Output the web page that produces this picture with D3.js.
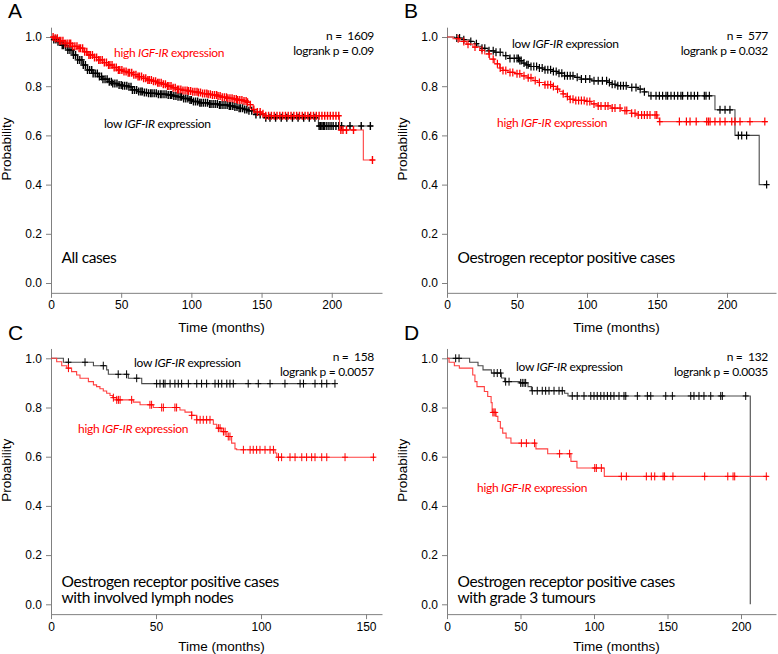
<!DOCTYPE html>
<html lang="en">
<head>
<meta charset="UTF-8">
<title>IGF-IR expression and survival</title>
<script src="https://d3js.org/d3.v7.min.js"></script>
<style>
  body { margin: 0; background: #fff; }
  svg text { font-family: "Liberation Sans", Arial, sans-serif; }
  .note { font-family: Lato, "Open Sans", sans-serif; font-size: 12px; letter-spacing: -0.3px; }
  .cap { font-family: Lato, "Open Sans", sans-serif; font-size: 15.5px; letter-spacing: -0.4px; }
</style>
</head>
<body>
<svg id="chart" width="778" height="654"></svg>
<script>
// step points are [months, survival probability after the step]
// panel A - all cases
const aHigh = [[2,0.995],[6,0.985],[10,0.974],[15,0.962],[19,0.954],[23,0.94],[26,0.927],[30,0.917],[34,0.907],[37,0.896],[41,0.886],[44,0.876],[48,0.866],[51,0.86],[55,0.855],[58,0.847],[62,0.839],[66,0.832],[69,0.825],[73,0.82],[76,0.814],[80,0.808],[83,0.801],[87,0.794],[90,0.787],[94,0.783],[98,0.78],[101,0.777],[105,0.774],[108,0.77],[112,0.767],[115,0.764],[119,0.76],[122,0.755],[126,0.751],[130,0.748],[133,0.744],[137,0.74],[140,0.735],[142,0.725],[144,0.705],[147,0.695],[150,0.688],[153,0.68],[205.5,0.622],[222.5,0.5]];
const aHighEnd = 229.6;
const aHighCens = [1.5,3,4.5,6,7,8.5,10,11.5,13,14,15.5,17,18.5,20,21,22.5,24,25.5,27,28,29.5,31,32.5,34,35,36.5,38,39.5,41,42,43.5,45,46.5,48,49,50.5,52,53.5,55,56,57.5,59,60.5,62,63,64.5,66,67.5,69,70,71.5,73,74.5,76,77,78.5,80,81.5,83,84,85.5,87,88.5,90,91,92.5,94,95.5,97,98,99.5,101,102.5,104,105,106.5,108,109.5,111,112,113.5,115,116.5,118,119,120.5,122,123.5,125,126,127.5,129,130.5,132,133,134.5,136,137.5,139,140,142,144.5,147,149,151,153,155,157,159,161,163,165,167,169,171,173,175,177,179,181,183,185,187,189,191,193,195,197,199,201,203,205,206.5,208,210.5,215.5,229];
const aLow = [[2,0.99],[5,0.981],[8,0.966],[12,0.947],[16,0.927],[19,0.907],[23,0.886],[26,0.866],[30,0.852],[34,0.839],[37,0.828],[41,0.818],[44,0.811],[48,0.805],[51,0.802],[55,0.798],[58,0.785],[62,0.778],[66,0.774],[69,0.771],[76,0.767],[83,0.764],[87,0.76],[90,0.757],[94,0.75],[98,0.744],[101,0.738],[105,0.733],[112,0.728],[119,0.724],[126,0.72],[130,0.715],[133,0.71],[137,0.705],[140,0.7],[145,0.685],[152,0.672],[190.5,0.638]];
const aLowEnd = 229.7;
const aLowCens = [2,3.5,5,6.5,8,9,10.5,12,13.5,15,16,17.5,19,20.5,22,23,24.5,26,27.5,29,30,31.5,33,34.5,36,37,38.5,40,41.5,43,44,45.5,47,48.5,50,51,52.5,54,55.5,57,58,59.5,61,62.5,64,65,66.5,68,69.5,71,72,73.5,75,76.5,78,79,80.5,82,83.5,85,86,87.5,89,90.5,92,93,94.5,96,97.5,99,100,101.5,103,104.5,106,107,108.5,110,111.5,113,114,115.5,117,118.5,120,121,122.5,124,125.5,127,128,129.5,131,132.5,134,135,136.5,138,139.5,141,143,146,149,153,156,160,164,168,172,176,180,184,188,191,192,193,194,195,196.5,198,199.5,201,203,205,207,213,221,227.5];

// panel B - oestrogen receptor positive
const bLow = [[5.5,0.996],[11.4,0.989],[16.2,0.982],[19.7,0.973],[22.1,0.962],[24.5,0.954],[29.3,0.944],[34,0.938],[40,0.924],[44.7,0.913],[51.8,0.904],[54.2,0.894],[56.6,0.887],[59,0.88],[64.9,0.874],[69.7,0.867],[75.6,0.86],[79.2,0.853],[83.9,0.842],[91.1,0.836],[95.8,0.829],[103,0.822],[114.9,0.815],[117.2,0.808],[122,0.802],[129.1,0.795],[136.3,0.788],[141,0.777],[144,0.761],[191.4,0.704],[205.7,0.6],[223,0.4]];
const bLowEnd = 228.3;
const bLowCens = [7,9,12,17,21,25,27,30,33,35,38,42,45,48,50,51,52,53,55,57,58,60,62,64,66,68,70,72,74,76,78,80,82,84,86,88,90,93,96,99,102,105,108,111,114,116,118,120,122,124,126,128,132,135,138,141,145.7,149.3,151.7,154,156.4,157.6,160,162.4,164.8,167.1,168.3,171.9,174.3,176.7,179,183.8,185,187.4,195,198.6,202.1,208.1,210.5,214,228.3];
const bHigh = [[4.3,0.993],[9,0.982],[13.8,0.971],[18.5,0.959],[23.3,0.946],[26.9,0.931],[30.4,0.91],[34,0.891],[37.6,0.874],[40,0.864],[43.5,0.856],[48.3,0.851],[53,0.842],[57.8,0.834],[61.4,0.823],[64.9,0.815],[69.7,0.806],[75.6,0.799],[78,0.788],[80.4,0.779],[82.8,0.769],[85.1,0.758],[87.5,0.747],[91.1,0.742],[98.2,0.738],[103,0.728],[107.7,0.72],[117.2,0.711],[124.4,0.701],[131.5,0.69],[135.1,0.683],[150.5,0.67],[151.7,0.656]];
const bHighEnd = 229;
const bHighCens = [8,12,15,20,25,30,33,36,38,40,42,45,47,50,52,55,58,60,63,66,70,72,74,76,79,83,86,88,90,92,94,96,98,100,102,105,108,110,113,115,118,120,123.6,127.1,128.4,131.9,134.3,136.6,139,141,143,145,148.6,149.8,152,166,171,173.6,178,185.5,186.7,187.9,191.4,195,198.6,203.4,205.7,209.3,216.4,227];

// panel C - ER positive, involved lymph nodes
const cLow = [[5.9,0.984],[20.2,0.97],[26.5,0.953],[27.3,0.935],[36.8,0.919],[43.2,0.897]];
const cLowEnd = 135.2;
const cLowCens = [8.3,16.2,24.9,32,36,40.8,50.3,51.9,53.5,54.3,56.7,59,60.6,62.2,65.4,69.4,71.7,74.1,78.1,79.7,81.3,83.7,85.2,86.8,93.9,98.7,104.3,111.4,118.6,120.2,125.7,128.9,131.3,135.2];
const cHigh = [[2.7,0.986],[5.1,0.97],[7.5,0.96],[9.8,0.946],[12.2,0.932],[13.8,0.919],[17.8,0.905],[20.2,0.892],[21.7,0.885],[23.3,0.876],[24.9,0.867],[26.5,0.858],[28.1,0.849],[29.4,0.84],[31.3,0.831],[39.2,0.822],[42.4,0.811],[48.7,0.8],[61.4,0.79],[63.8,0.781],[67,0.768],[69.4,0.75],[77.3,0.732],[78.9,0.716],[81.3,0.702],[83.7,0.682],[86,0.655],[87.6,0.632],[88.4,0.628],[106.7,0.615],[107.5,0.598]];
const cHighEnd = 154.3;
const cHighCens = [8.3,29.7,31.3,32.1,32.9,38.4,47.1,47.9,52.7,53.5,59,59.8,67,69.4,71,72.5,74.1,75.7,79.7,80.5,82.1,82.9,84.4,85.2,91.6,94.8,96.3,97.9,99.5,101.9,104.3,105.9,108.3,109.8,113.8,116.2,119.4,121.7,124.1,125.7,128.9,131.3,140,153.5];

// panel D - ER positive, grade 3 tumours
const dLow = [[15.4,0.984],[21.1,0.97],[24.5,0.953],[30.2,0.94],[37,0.92],[39.2,0.905],[49.4,0.9],[55.1,0.885],[57.4,0.868],[80,0.858],[82.3,0.847],[206.3,0]];
const dLowEnd = 206.3;
const dLowCens = [5.9,8.2,32,34.2,36.5,39.9,42.2,50.1,51.2,52.4,53.5,58,61.4,64.8,67.1,69.4,72.8,76.2,78.4,85.2,88.6,93.2,97.8,100,102.2,104.6,106.8,109.1,111.4,113.6,117,120.4,121.6,129.5,136.3,138.6,148.8,153.3,165.8,168,171.4,174.8,179.4,186.2,187.3,203.2];
const dHigh = [[1.4,0.984],[5,0.97],[8.4,0.96],[17.5,0.932],[19,0.905],[20.4,0.885],[25.4,0.865],[27.7,0.845],[30,0.82],[30.7,0.78],[33.4,0.764],[34.6,0.743],[36.3,0.716],[37.9,0.696],[40.2,0.676],[43.5,0.655],[60.5,0.632],[68.5,0.612],[84.3,0.581],[88.4,0.554],[107,0.52]];
const dHighEnd = 218.6;
const dHighCens = [31.2,32,32.8,50.6,54,59.6,76.6,83.4,100.5,101.6,105,118.6,122,135.6,139,141.3,147,148,153.7,175.3,191,194.6,195.7,217.2];

const yTicks = [0, 0.2, 0.4, 0.6, 0.8, 1.0];
const nCases = ["1609", "577", "158", "132"];
const pValues = ["0.09", "0.032", "0.0057", "0.0035"];
const captions = [["All cases"], ["Oestrogen receptor positive cases"],
  ["Oestrogen receptor positive cases", "with involved lymph nodes"],
  ["Oestrogen receptor positive cases", "with grade 3 tumours"]];

const panels = [
  {letter:"A", left:51, right:382, base:283, tmax:235.8, xticks:[0,50,100,150,200],
   low:aLow, lowEnd:aLowEnd, lowCens:aLowCens, high:aHigh, highEnd:aHighEnd, highCens:aHighCens,
   lowLab:[104,128], highLab:[114,57], mark:1.4},
  {letter:"B", left:447, right:776, base:283, tmax:235, xticks:[0,50,100,150,200],
   low:bLow, lowEnd:bLowEnd, lowCens:bLowCens, high:bHigh, highEnd:bHighEnd, highCens:bHighCens,
   lowLab:[512,47.5], highLab:[497,126.5], mark:1.2},
  {letter:"C", left:51, right:382, base:604.3, tmax:157.6, xticks:[0,50,100,150],
   low:cLow, lowEnd:cLowEnd, lowCens:cLowCens, high:cHigh, highEnd:cHighEnd, highCens:cHighCens,
   lowLab:[134,367], highLab:[78,433], mark:1},
  {letter:"D", left:447, right:776, base:604.3, tmax:223.8, xticks:[0,50,100,150,200],
   low:dLow, lowEnd:dLowEnd, lowCens:dLowCens, high:dHigh, highEnd:dHighEnd, highCens:dHighCens,
   lowLab:[516,370.5], highLab:[477,491.5], mark:1}
];

const svg = d3.select("#chart");
svg.append("rect").attr("width", 778).attr("height", 654).attr("fill", "#fff");

function valueAt(steps, t) {
  var v = 1;
  steps.forEach(function(s) { if (s[0] <= t) v = s[1]; });
  return v;
}

panels.forEach(function(p, i) {
  var x = d3.scaleLinear().domain([0, p.tmax]).range([p.left, p.right]);
  var y = d3.scaleLinear().domain([-0.04, 1.04]).range([p.base + 246 * 0.04, p.base - 246 * 1.04]);
  var g = svg.append("g");
  var top = p.base - 246;

  // axes
  var ya = g.append("g")
    .attr("transform", "translate(" + p.left + ",0)")
    .call(d3.axisLeft(y).tickValues(yTicks).tickFormat(d3.format(".1f")).tickSize(5).tickSizeOuter(0).tickPadding(4));
  var xa = g.append("g")
    .attr("transform", "translate(0," + y(-0.04) + ")")
    .call(d3.axisBottom(x).tickValues(p.xticks).tickSize(5).tickSizeOuter(0).tickPadding(3));
  [ya, xa].forEach(function(a) {
    a.selectAll("path, line").attr("stroke", "#808080");
    a.selectAll("text").attr("font-size", 12).attr("fill", "#000")
      .attr("font-family", "'Liberation Sans', Arial, sans-serif");
  });

  // axis titles
  g.append("text")
    .attr("transform", "translate(" + (p.left - 40.5) + "," + (top + 112) + ")rotate(-90)")
    .attr("text-anchor", "middle").attr("font-size", 13.5).text("Probability");
  g.append("text")
    .attr("x", (p.left + p.right) / 2 + 5).attr("y", p.base + (i < 2 ? 48.5 : 46.7))
    .attr("text-anchor", "middle").attr("font-size", 13.5).text("Time (months)");

  // panel letter
  g.append("text").attr("x", p.left - 43).attr("y", top - 18.7)
    .attr("font-size", 21).text(p.letter);

  // curves
  var line = d3.line().x(function(d) { return x(d[0]); }).y(function(d) { return y(d[1]); })
    .curve(d3.curveStepAfter);
  function curve(steps, end, cens, lineCol, markCol) {
    var pts = [[0, 1]].concat(steps);
    pts.push([end, steps[steps.length - 1][1]]);
    g.append("path").attr("d", line(pts)).attr("fill", "none")
      .attr("stroke", lineCol).attr("stroke-width", 1.1);
    g.append("g").selectAll("path").data(cens).enter().append("path")
      .attr("d", function(t) {
        var cx = x(t), cy = y(valueAt(steps, t));
        return "M" + (cx - 3) + "," + cy + "H" + (cx + 3) + "M" + cx + "," + (cy - 4) + "V" + (cy + 4);
      })
      .attr("stroke", markCol).attr("stroke-width", p.mark).attr("fill", "none");
  }
  curve(p.low, p.lowEnd, p.lowCens, "#4a4a4a", "#000");
  curve(p.high, p.highEnd, p.highCens, "#ff4040", "#ff0000");

  // annotations
  g.append("text").attr("class", "note").attr("x", p.right - 8).attr("y", top + 3)
    .attr("text-anchor", "end").attr("xml:space", "preserve").text("n =  " + nCases[i]);
  g.append("text").attr("class", "note").attr("x", p.right - 8).attr("y", top + 18)
    .attr("text-anchor", "end").text("logrank p = " + pValues[i]);

  function exprLabel(pos, word, col) {
    var t = g.append("text").attr("class", "note").attr("x", pos[0]).attr("y", pos[1]).attr("fill", col);
    t.append("tspan").text(word + " ");
    t.append("tspan").attr("font-style", "italic").text("IGF-IR");
    t.append("tspan").text(" expression");
  }
  exprLabel(p.lowLab, "low", "#000");
  exprLabel(p.highLab, "high", "#ff0000");

  captions[i].forEach(function(c, k) {
    g.append("text").attr("class", "cap").attr("x", p.left + 10.5).attr("y", (i < 2 ? p.base - 20 : p.base - 17.8) + k * 16.5)
      .text(c);
  });
});
</script>
</body>
</html>
